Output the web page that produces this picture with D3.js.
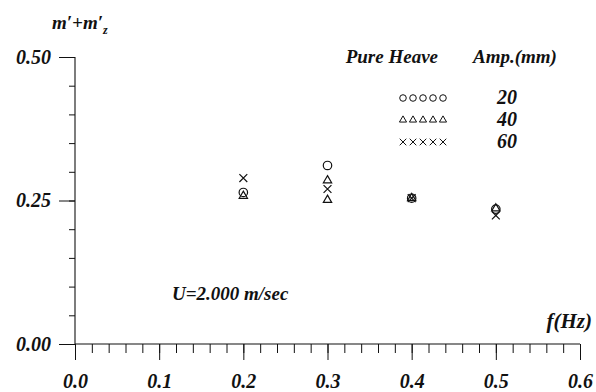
<!DOCTYPE html>
<html>
<head>
<meta charset="utf-8">
<script src="https://cdn.jsdelivr.net/npm/d3@7"></script>
<style>
  html, body { margin: 0; padding: 0; background: #fff; }
  svg { display: block; }
  text { font-family: "Liberation Serif", "Times New Roman", serif; font-style: italic; font-weight: bold; fill: #111; }
</style>
</head>
<body>
<svg id="chart" width="596" height="392"></svg>
<script>
// Added mass coefficient vs. frequency, pure heave, U = 2.000 m/sec
const xTicks = [0.0, 0.1, 0.2, 0.3, 0.4, 0.5, 0.6];
const yTicks = [0.00, 0.25, 0.50];

const amp20Freq = [0.2, 0.3, 0.4, 0.5];
const amp20 = [0.264, 0.311, 0.254, 0.235];

const amp40Freq = [0.2, 0.3, 0.3, 0.4, 0.5];
const amp40 = [0.258, 0.285, 0.251, 0.254, 0.236];

const amp60Freq = [0.2, 0.3, 0.4, 0.5];
const amp60 = [0.289, 0.270, 0.254, 0.224];

const legendLabels = ["20", "40", "60"];

const svg = d3.select("#chart");
const x = d3.scaleLinear().domain([0, 0.6]).range([75, 580]);
const y = d3.scaleLinear().domain([0, 0.5]).range([344, 57]);

const ink = "#111";

// y axis: long ticks at labelled values, short ticks every 0.05
const yMinor = d3.axisLeft(y).tickValues(d3.range(0, 0.501, 0.05)).tickSize(6).tickFormat("");
const yMajor = d3.axisLeft(y).tickValues(yTicks).tickSize(16).tickFormat(d3.format(".2f")).tickPadding(8);
// x axis: short ticks every 0.02, long ticks every 0.1
const xMinor = d3.axisBottom(x).tickValues(d3.range(0, 0.6001, 0.02)).tickSize(9).tickFormat("");
const xMajor = d3.axisBottom(x).tickValues(xTicks).tickSize(16).tickFormat(d3.format(".1f")).tickPadding(14);

function styleAxis(g) {
  g.attr("font-family", null).attr("font-size", null);
  g.select(".domain").attr("stroke", ink).attr("stroke-width", 1.1);
  g.selectAll(".tick line").attr("stroke", ink).attr("stroke-width", 1);
  g.selectAll(".tick text").attr("fill", ink)
    .style("font-family", '"Liberation Serif", serif')
    .style("font-style", "italic").style("font-weight", "bold")
    .style("font-size", "20px");
}

svg.append("g").attr("transform", `translate(${x(0)},0)`).call(yMinor).call(styleAxis)
  .select(".domain").attr("d", `M0,${y(0)}V${y(0.5)}`);
svg.append("g").attr("transform", `translate(${x(0)},0)`).call(yMajor).call(styleAxis)
  .select(".domain").remove();
svg.append("g").attr("transform", `translate(0,${y(0)})`).call(xMinor).call(styleAxis)
  .select(".domain").attr("d", `M${x(0)},0H${x(0.6)}`);
svg.append("g").attr("transform", `translate(0,${y(0)})`).call(xMajor).call(styleAxis)
  .select(".domain").remove();

// axis titles
const yTitle = svg.append("text").attr("x", 52).attr("y", 29).style("font-size", "19px");
yTitle.append("tspan").text("m\u2032+m\u2032");
yTitle.append("tspan").text("z").attr("dx", 0).attr("dy", 5).style("font-size", "12px");

svg.append("text").attr("x", 592).attr("y", 328).attr("text-anchor", "end")
  .style("font-size", "21px").text("f(Hz)");

svg.append("text").attr("x", 172).attr("y", 300).style("font-size", "19px").text("U=2.000 m/sec");

// markers
const sym = {
  circle: d3.symbol().type(d3.symbolCircle).size(56),
  triangle: d3.symbol().type(d3.symbolTriangle).size(30),
  cross: d3.symbol().type(d3.symbolX).size(42)
};

function plotSeries(freqs, vals, shape) {
  svg.append("g").selectAll("path")
    .data(freqs.map((f, i) => [f, vals[i]]))
    .join("path")
    .attr("transform", d => `translate(${x(d[0])},${y(d[1])})`)
    .attr("d", sym[shape]())
    .attr("fill", "none")
    .attr("stroke", ink)
    .attr("stroke-width", 1.2);
}
plotSeries(amp20Freq, amp20, "circle");
plotSeries(amp40Freq, amp40, "triangle");
plotSeries(amp60Freq, amp60, "cross");

// legend
svg.append("text").attr("x", 438).attr("y", 63).attr("text-anchor", "end").style("font-size", "19px").text("Pure Heave");
svg.append("text").attr("x", 473).attr("y", 63).style("font-size", "19px").text("Amp.(mm)");

const legendShapes = ["circle", "triangle", "cross"];
const legendSym = {
  circle: d3.symbol().type(d3.symbolCircle).size(34),
  triangle: d3.symbol().type(d3.symbolTriangle).size(22),
  cross: d3.symbol().type(d3.symbolX).size(30)
};
legendShapes.forEach((s, i) => {
  const yy = 98 + i * 22;
  const g = svg.append("g");
  g.selectAll("path").data(d3.range(5)).join("path")
    .attr("transform", k => `translate(${403 + k * 10},${yy})`)
    .attr("d", legendSym[s]())
    .attr("fill", "none").attr("stroke", ink).attr("stroke-width", 1);
  svg.append("text").attr("x", 497).attr("y", yy + 6).style("font-size", "20px").text(legendLabels[i]);
});
</script>
</body>
</html>
